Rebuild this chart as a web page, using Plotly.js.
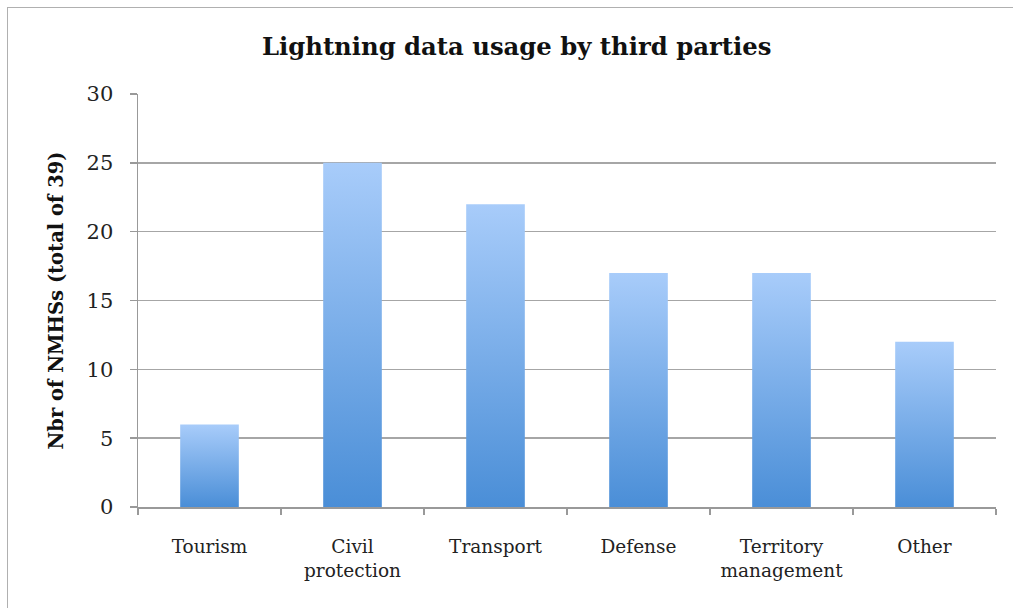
<!DOCTYPE html>
<html>
<head>
<meta charset="utf-8">
<script src="https://cdn.plot.ly/plotly-3.0.1.min.js"></script>
<style>
html,body{margin:0;padding:0;background:#fff;}
#wrap{position:relative;width:1013px;height:608px;overflow:hidden;}
#chart{position:absolute;left:0;top:0;width:1013px;height:608px;}
#frame{position:absolute;left:7px;top:7px;width:1100px;height:700px;border-left:1.5px solid #b0b0b0;border-top:1.5px solid #b0b0b0;pointer-events:none;}
</style>
</head>
<body>
<div id="wrap"><div id="chart"></div><div id="frame"></div></div>
<script>
const categories = ["Tourism", "Civil<br>protection", "Transport", "Defense", "Territory<br>management", "Other"];
const counts = [6, 25, 22, 17, 17, 12];
const yTicks = [0, 5, 10, 15, 20, 25, 30];

const FONT = "DejaVu Serif, Liberation Serif, serif";

const trace = {
  type: "bar",
  x: categories,
  y: counts,
  width: 0.41,
  marker: {color: "#7aaeea", line: {width: 0}},
  hoverinfo: "skip"
};

const layout = {
  width: 1013, height: 608,
  margin: {l: 138, r: 17, t: 94, b: 101},
  paper_bgcolor: "rgba(0,0,0,0)",
  plot_bgcolor: "rgba(0,0,0,0)",
  showlegend: false,
  title: {text: "<b>Lightning data usage by third parties</b>", x: 0.51, xref: "container", y: 0.923, yanchor: "middle",
          font: {family: FONT, size: 24.3, color: "#111"}},
  xaxis: {
    type: "category", tickson: "boundaries", ticks: "outside", ticklen: 6, tickcolor: "#999", tickwidth: 1.5,
    showline: true, linecolor: "#999", linewidth: 1.5, showgrid: false,
    tickfont: {family: FONT, size: 18.5, color: "#222"}, ticklabelstandoff: 22,
    fixedrange: true
  },
  yaxis: {
    range: [0, 30], tickvals: yTicks, ticks: "outside", ticklen: 7, tickcolor: "#999", tickwidth: 1.5,
    showline: true, linecolor: "#999", linewidth: 1.5,
    showgrid: true, gridcolor: "#a6a6a6", gridwidth: 1.5, zeroline: false,
    tickfont: {family: FONT, size: 21, color: "#222"}, ticklabelstandoff: 12,
    title: {text: "<b>Nbr of NMHSs (total of 39)</b>", font: {family: FONT, size: 19.5, color: "#111"}, standoff: 17},
    fixedrange: true
  }
};

Plotly.newPlot("chart", [trace], layout, {staticPlot: true, displayModeBar: false}).then(function(gd){
  const svgNS = "http://www.w3.org/2000/svg";
  const svg = gd.querySelector("svg.main-svg");
  let defs = svg.querySelector("defs");
  if (!defs) { defs = document.createElementNS(svgNS, "defs"); svg.insertBefore(defs, svg.firstChild); }
  const g = document.createElementNS(svgNS, "linearGradient");
  g.setAttribute("id", "barGrad");
  g.setAttribute("x1", "0"); g.setAttribute("y1", "0"); g.setAttribute("x2", "0"); g.setAttribute("y2", "1");
  [["0", "#a8ccfa"], ["1", "#4a8ed7"]].forEach(function(s){
    const st = document.createElementNS(svgNS, "stop");
    st.setAttribute("offset", s[0]); st.setAttribute("stop-color", s[1]);
    g.appendChild(st);
  });
  defs.appendChild(g);
  gd.querySelectorAll(".barlayer .point path").forEach(function(p){
    p.style.fill = "url(#barGrad)";
  });
});
</script>
</body>
</html>
